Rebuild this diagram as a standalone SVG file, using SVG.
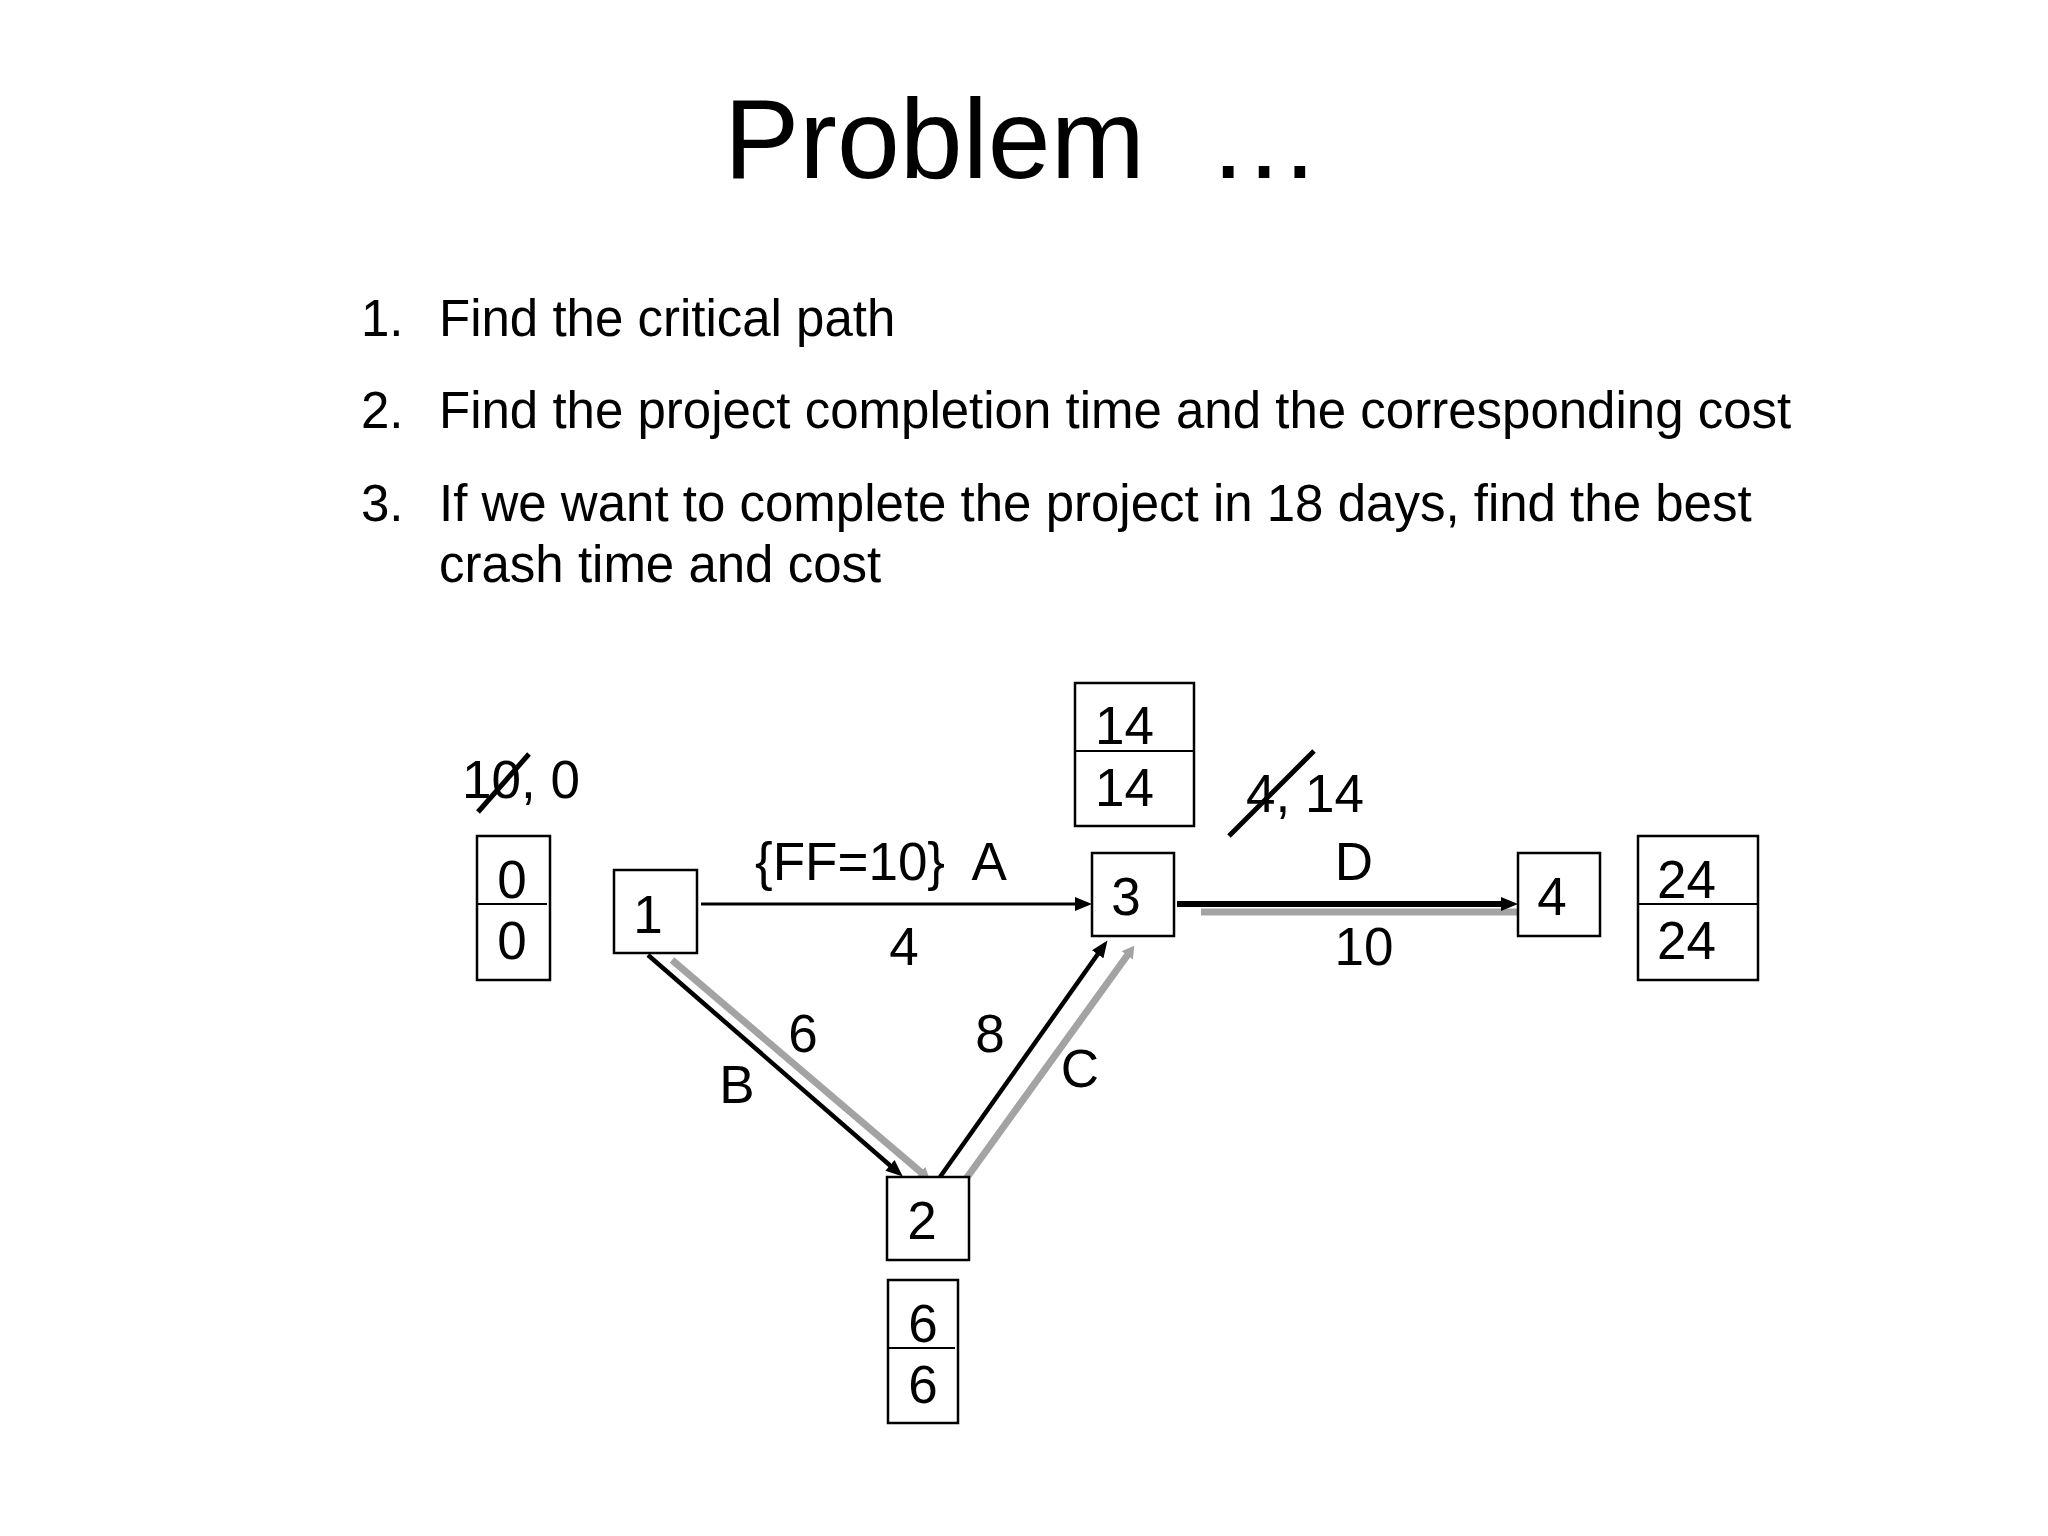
<svg xmlns="http://www.w3.org/2000/svg" width="2048" height="1536" viewBox="0 0 2048 1536">
<style>
text{font-family:"Liberation Sans",Arial,sans-serif;fill:#000}
.title{font-size:113px}
.item{font-size:51px}
.lbl{font-size:53px}
.mid{text-anchor:middle}
.box{fill:#fff;stroke:#000;stroke-width:2.5}
.div{stroke:#000;stroke-width:2.2}
.blk{stroke:#000;fill:none}
.gry{stroke:#a3a3a3;fill:none;stroke-width:7}
.slash{stroke:#000;stroke-width:5}
</style>
<defs>
<marker id="ah" markerUnits="userSpaceOnUse" markerWidth="22" markerHeight="16" viewBox="0 -8 22 16" refX="4" refY="0" orient="auto"><path d="M0,-7 L17,0 L0,7 z" fill="#000"/></marker>
<marker id="gh" markerUnits="userSpaceOnUse" markerWidth="16" markerHeight="16" viewBox="0 -8 16 16" refX="3" refY="0" orient="auto"><path d="M0,-7 L12,0 L0,7 z" fill="#a3a3a3"/></marker>
</defs>
<rect width="2048" height="1536" fill="#fff"/>
<g id="title"><text class="title" x="724" y="178" xml:space="preserve">Problem  …</text></g>
<g id="list">
<text class="item" x="361" y="336">1.</text>
<text class="item" x="439" y="336">Find the critical path</text>
<text class="item" x="361" y="428">2.</text>
<text class="item" x="439" y="428">Find the project completion time and the corresponding cost</text>
<text class="item" x="361" y="521">3.</text>
<text class="item" x="439" y="521">If we want to complete the project in 18 days, find the best</text>
<text class="item" x="439" y="582">crash time and cost</text>
</g>
<g id="connectors">
<line class="gry" x1="672" y1="960" x2="923" y2="1174" marker-end="url(#gh)"/>
<line class="gry" x1="963" y1="1183" x2="1129" y2="953" marker-end="url(#gh)"/>
<line class="gry" x1="1201" y1="912" x2="1535" y2="912" marker-end="url(#gh)"/>
<line class="blk" stroke-width="3" x1="701" y1="904" x2="1079" y2="904" marker-end="url(#ah)"/>
<line class="blk" stroke-width="4.5" x1="648" y1="955" x2="893" y2="1168" marker-end="url(#ah)"/>
<line class="blk" stroke-width="4.5" x1="940" y1="1177" x2="1100" y2="951" marker-end="url(#ah)"/>
<line class="blk" stroke-width="6" x1="1177" y1="904" x2="1505" y2="904" marker-end="url(#ah)"/>
<text class="lbl" x="755" y="880" xml:space="preserve">{FF=10}  A</text>
<text class="lbl mid" x="904" y="965">4</text>
<text class="lbl mid" x="1354" y="880">D</text>
<text class="lbl mid" x="1364" y="965">10</text>
<text class="lbl mid" x="803" y="1052">6</text>
<text class="lbl mid" x="737" y="1103">B</text>
<text class="lbl mid" x="990" y="1052">8</text>
<text class="lbl mid" x="1080" y="1087">C</text>
</g>
<g id="node1"><rect class="box" x="614" y="870" width="83" height="83"/><text class="lbl mid" x="648" y="933">1</text></g>
<g id="node2"><rect class="box" x="887" y="1177" width="82" height="83"/><text class="lbl mid" x="922" y="1239">2</text></g>
<g id="node3"><rect class="box" x="1092" y="853" width="82" height="83"/><text class="lbl mid" x="1126" y="915">3</text></g>
<g id="node4"><rect class="box" x="1518" y="853" width="82" height="83"/><text class="lbl mid" x="1552" y="915">4</text></g>
<g id="times1"><rect class="box" x="477" y="836" width="73" height="144"/><line class="div" x1="477" y1="904" x2="547" y2="904"/><text class="lbl mid" x="512" y="898">0</text><text class="lbl mid" x="512" y="959">0</text></g>
<g id="times2"><rect class="box" x="888" y="1280" width="70" height="143"/><line class="div" x1="888" y1="1348" x2="955" y2="1348"/><text class="lbl mid" x="923" y="1342">6</text><text class="lbl mid" x="923" y="1403">6</text></g>
<g id="times3"><rect class="box" x="1075" y="683" width="119" height="143"/><line class="div" x1="1075" y1="751" x2="1194" y2="751"/><text class="lbl" x="1095" y="744">14</text><text class="lbl" x="1095" y="806">14</text></g>
<g id="times4"><rect class="box" x="1638" y="836" width="120" height="144"/><line class="div" x1="1638" y1="904" x2="1758" y2="904"/><text class="lbl" x="1657" y="898">24</text><text class="lbl" x="1657" y="959">24</text></g>
<g id="float1"><text class="lbl" x="462" y="798">10, 0</text><line class="slash" x1="478" y1="812" x2="529" y2="754"/></g>
<g id="float3"><text class="lbl" x="1246" y="812">4, 14</text><line class="slash" x1="1229" y1="836" x2="1314" y2="751"/></g>
</svg>
